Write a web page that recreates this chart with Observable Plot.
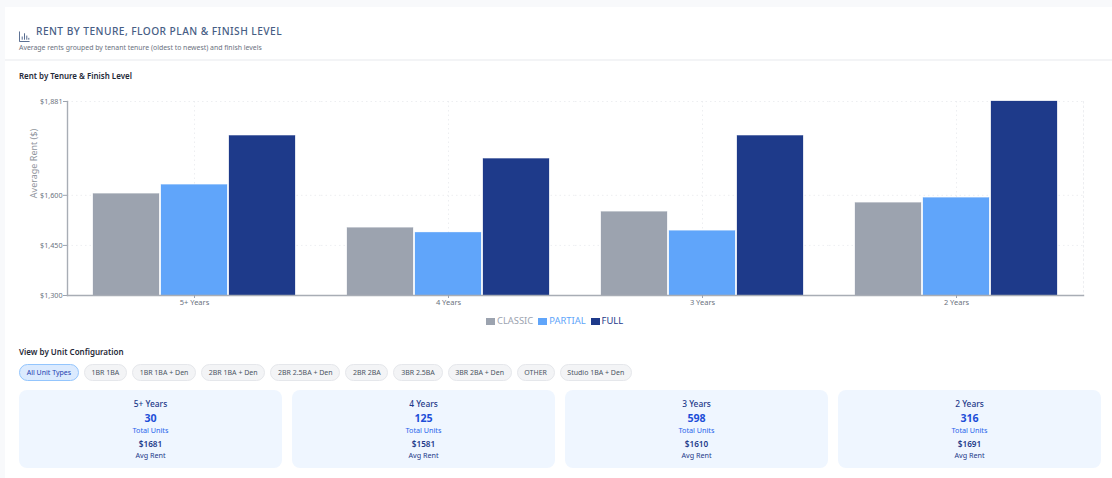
<!DOCTYPE html>
<html>
<head>
<meta charset="utf-8">
<script src="https://cdn.jsdelivr.net/npm/d3@7"></script>
<script src="https://cdn.jsdelivr.net/npm/@observablehq/plot@0.6"></script>
<style>
html,body{margin:0;padding:0;background:#f8f9fb;width:1112px;height:478px;overflow:hidden;font-family:"Noto Sans",sans-serif}
#card{position:absolute;left:5px;top:7px;width:1107px;height:471px;background:#fff}
.abs{position:absolute}
#title{left:36px;top:24px;font-size:10.2px;font-weight:500;letter-spacing:.45px;color:#475e85;white-space:nowrap;line-height:14px}
#sub{left:19px;top:42px;font-size:6.9px;color:#6b7280;white-space:nowrap;line-height:11px}
#rule{left:5px;top:59px;width:1107px;height:2px;background:#f3f4f6}
#h1{left:19px;top:70px;font-size:7.95px;font-weight:600;color:#1f2937;white-space:nowrap;line-height:12px}
#h2{left:19px;top:346px;font-size:8px;font-weight:600;color:#1f2937;white-space:nowrap;line-height:12px}
#plot{left:0;top:90px}
#legend{left:486px;top:315px;display:flex;align-items:center;font-size:9.4px;line-height:12px;white-space:nowrap}
#legend span.sw{display:inline-block;width:9px;height:7px;margin-right:2px}
#legend span.it{display:flex;align-items:center;margin-right:5px}
#pills{left:19px;top:364px;display:flex;gap:5px}
.pill{box-sizing:border-box;height:17px;line-height:15px;border:1px solid #e5e7eb;background:#f3f4f6;border-radius:9px;font-size:7px;color:#4b5563;padding:0 6.7px;white-space:nowrap}
.pill.on{background:#dbeafe;border-color:#93c5fd;color:#1e40af}
.tile{position:absolute;top:390px;height:78px;background:#eff6ff;border-radius:8px;text-align:center;white-space:nowrap}
.tile div{position:absolute;left:0;right:0}
.t1{top:8px;font-size:8.4px;line-height:12px;color:#1e3a8a;font-weight:500}
.t2{top:21px;font-size:10.6px;line-height:15px;color:#1d4ed8;font-weight:700}
.t3{top:35px;font-size:7.2px;line-height:11px;color:#2563eb}
.t4{top:48px;font-size:8.2px;line-height:12px;color:#1e3a8a;font-weight:600}
.t5{top:60px;font-size:7.2px;line-height:11px;color:#1e3a8a}
</style>
</head>
<body>
<div id="card"></div>
<div class="abs" id="icon" style="left:19px;top:25px"></div>
<div class="abs" id="title">RENT BY TENURE, FLOOR PLAN &amp; FINISH LEVEL</div>
<div class="abs" id="sub">Average rents grouped by tenant tenure (oldest to newest) and finish levels</div>
<div class="abs" id="rule"></div>
<div class="abs" id="h1">Rent by Tenure &amp; Finish Level</div>
<div class="abs" id="plot"></div>
<div class="abs" id="legend"></div>
<div class="abs" id="h2">View by Unit Configuration</div>
<div class="abs" id="pills"></div>
<div id="tiles"></div>
<script>
const tenures = ["5+ Years", "4 Years", "3 Years", "2 Years"];
const finishes = ["CLASSIC", "PARTIAL", "FULL"];
const finishColors = ["#9ca3af", "#60a5fa", "#1e3a8a"];
const classicRent = [1604, 1502, 1550, 1577];
const partialRent = [1631, 1488, 1493, 1592];
const fullRent = [1778, 1709, 1778, 1881];
const rentTicks = [1300, 1450, 1600, 1881];
const unitTypes = ["All Unit Types", "1BR 1BA", "1BR 1BA + Den", "2BR 1BA + Den", "2BR 2.5BA + Den", "2BR 2BA", "3BR 2.5BA", "3BR 2BA + Den", "OTHER", "Studio 1BA + Den"];
const totalUnits = [30, 125, 598, 316];
const avgRent = [1681, 1581, 1610, 1691];
const tileLefts = [19, 292, 565, 838];

const rows = [];
tenures.forEach((t, i) => {
  rows.push({tenure: t, finish: "CLASSIC", rent: classicRent[i]});
  rows.push({tenure: t, finish: "PARTIAL", rent: partialRent[i]});
  rows.push({tenure: t, finish: "FULL", rent: fullRent[i]});
});

const gridStyle = {stroke: "#e5e7eb", strokeOpacity: 0.7, strokeDasharray: "1.5,3"};
const textColor = "#6b7280";

const chart = Plot.plot({
  width: 1112,
  height: 222,
  marginLeft: 67,
  marginRight: 29,
  marginTop: 11,
  marginBottom: 17,
  style: {fontFamily: '"Noto Sans",sans-serif', fontSize: "8px", background: "transparent", overflow: "visible"},
  fx: {domain: tenures, padding: 0, label: null, axis: null},
  x: {domain: finishes, paddingInner: 0.03, paddingOuter: 0.38, axis: null},
  y: {domain: [1300, 1881], ticks: rentTicks, axis: null},
  color: {domain: finishes, range: finishColors},
  marks: [
    Plot.gridY(rentTicks.slice(1), gridStyle),
    Plot.gridFx(gridStyle),
    Plot.frame({anchor: "right", facet: "super", ...gridStyle}),
    Plot.barY(rows, {fx: "tenure", x: "finish", y1: () => 1300, y2: "rent", fill: "finish", stroke: "finish", strokeOpacity: 0.5, strokeWidth: 0.5}),
    Plot.axisY(rentTicks, {
      tickFormat: d => "$" + d3.format(",")(d),
      tickSize: 4, tickPadding: 1, stroke: "#9ca3af", fill: textColor, fontSize: 7.2,
      label: null
    }),
    Plot.frame({anchor: "left", facet: "super", stroke: "#a8adb5", strokeWidth: 1.4}),
    Plot.frame({anchor: "bottom", facet: "super", stroke: "#a8adb5", strokeWidth: 1.4}),
    Plot.axisFx({anchor: "bottom", label: null, tickSize: 3, tickPadding: 1, stroke: "#9ca3af", fill: textColor, fontSize: 7.5}),
    Plot.text(["Average Rent ($)"], {frameAnchor: "left", textAnchor: "middle", facet: "super", dx: -33, dy: -35, rotate: -90, fill: "#8f949c", fontSize: 9})
  ]
});
document.getElementById("plot").appendChild(chart);

document.getElementById("icon").innerHTML = '<svg width="11" height="11" viewBox="0 0 12 12" fill="none" stroke="#475e85" stroke-width="1"><path d="M.5 .5V11.5H11.5"/><path d="M3.5 9.5V6M6 9.5V2.5M8.5 9.5V5M10.7 9.5V7.5"/></svg>';

const legend = document.getElementById("legend");
finishes.forEach((f, i) => {
  const it = document.createElement("span");
  it.className = "it";
  it.style.color = finishColors[i];
  it.innerHTML = '<span class="sw" style="background:' + finishColors[i] + '"></span>' + f;
  legend.appendChild(it);
});

const pills = document.getElementById("pills");
unitTypes.forEach((u, i) => {
  const p = document.createElement("div");
  p.className = i === 0 ? "pill on" : "pill";
  p.textContent = u;
  pills.appendChild(p);
});

const tiles = document.getElementById("tiles");
tenures.forEach((t, i) => {
  const d = document.createElement("div");
  d.className = "tile";
  d.style.left = tileLefts[i] + "px";
  d.style.width = "263px";
  d.innerHTML = '<div class="t1">' + t + '</div><div class="t2">' + totalUnits[i] + '</div><div class="t3">Total Units</div><div class="t4">$' + avgRent[i] + '</div><div class="t5">Avg Rent</div>';
  tiles.appendChild(d);
});
</script>
</body>
</html>
